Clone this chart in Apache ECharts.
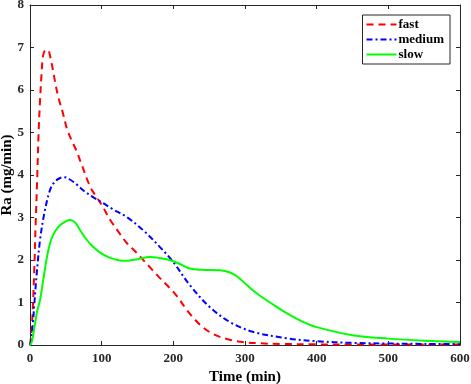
<!DOCTYPE html>
<html>
<head>
<meta charset="utf-8">
<script src="https://cdn.jsdelivr.net/npm/echarts@6/dist/echarts.min.js"></script>
<style>html,body{margin:0;padding:0;background:#fff}#c{width:471px;height:384px}</style>
</head>
<body>
<div id="c"></div>
<script>
var fastT = [0,2,4,6,8,10,12,14,16,18,21,25,28,32,36,40,46,52,58,64,72,84,92,100,112,124,135,147,158,170,181,195,205,219,230,241,253,265,280,297,320,350,400,450,500,550,600];
var fastV = [0,0.3,0.9,1.8,2.9,3.9,5.0,5.76,6.35,6.78,6.93,6.94,6.8,6.47,6.1,5.8,5.45,5.06,4.82,4.6,4.25,3.72,3.5,3.3,2.94,2.65,2.4,2.2,2.0,1.78,1.58,1.34,1.15,0.82,0.6,0.42,0.28,0.19,0.12,0.07,0.04,0.025,0.015,0.01,0.01,0.01,0.01];

var mediumT = [0,2,4,6,8,10,14,20,28,35,42,48,55,65,75,88,100,115,135,158,181,200,223,251,279,311,358,400,450,500,550,600];
var mediumV = [0,0.15,0.5,0.95,1.4,1.8,2.47,3.1,3.65,3.85,3.93,3.95,3.9,3.78,3.63,3.48,3.36,3.2,3.01,2.7,2.31,1.95,1.41,0.89,0.54,0.31,0.16,0.09,0.05,0.035,0.025,0.02];

var slowT = [0,2,4,6,8,10,14,20,24,28,32,36,42,50,56,63,70,78,88,100,112,125,135,150,167,180,195,210,223,240,265,280,290,300,310,320,335,360,380,400,450,500,550,600];
var slowV = [0,0.05,0.2,0.4,0.6,0.8,1.06,1.7,2.1,2.4,2.58,2.7,2.82,2.91,2.94,2.88,2.7,2.5,2.31,2.15,2.05,1.99,1.98,2.02,2.07,2.05,2.0,1.9,1.8,1.77,1.76,1.7,1.6,1.45,1.3,1.17,1.0,0.73,0.55,0.42,0.23,0.15,0.1,0.07];

var xTicks = [0,100,200,300,400,500,600];
var yTicks = [0,1,2,3,4,5,6,7,8];

function pairs(t, v){ return t.map(function(x,i){ return [x, v[i]]; }); }

var font = 'Liberation Serif';
var axisColor = '#262626';
var chart = echarts.init(document.getElementById('c'), null, {renderer:'canvas'});
chart.setOption({
  animation:false,
  backgroundColor:'#fff',
  grid:{left:30, right:11, top:5, bottom:39, containLabel:false, outerBoundsMode:'none'},
  legend:{
    right:21, top:15, orient:'vertical',
    data:['fast','medium','slow'],
    itemWidth:30, itemHeight:8, itemGap:2,
    padding:[3,6,3,3],
    borderColor:'#262626', borderWidth:1, borderRadius:0,
    backgroundColor:'#fff',
    itemStyle:{opacity:0},
    textStyle:{fontFamily:font, fontWeight:'bold', fontSize:13, lineHeight:13, color:'#000', padding:[0,0,0,-3]}
  },
  xAxis:[{
    type:'value', min:0, max:600, interval:100, position:'bottom',
    name:'Time (min)', nameLocation:'middle', nameGap:25, nameMoveOverlap:false,
    nameTextStyle:{fontFamily:font, fontWeight:'bold', fontSize:15, color:'#000'},
    axisLine:{show:true, onZero:false, lineStyle:{color:axisColor, width:1}},
    axisTick:{show:true, inside:true, length:4, lineStyle:{color:axisColor}},
    axisLabel:{fontFamily:font, fontWeight:'bold', fontSize:13, color:'#262626', margin:7,
      formatter:function(v){ return xTicks.indexOf(v)>=0 ? String(v) : ''; }},
    splitLine:{show:false}
  },{
    type:'value', min:0, max:600, interval:100, position:'top',
    axisLine:{show:true, onZero:false, lineStyle:{color:axisColor, width:1}},
    axisTick:{show:true, inside:true, length:4, lineStyle:{color:axisColor}},
    axisLabel:{show:false}, splitLine:{show:false}
  }],
  yAxis:[{
    type:'value', min:0, max:8, interval:1, position:'left',
    name:'Ra (mg/min)', nameLocation:'middle', nameGap:15, nameRotate:90, nameMoveOverlap:false,
    nameTextStyle:{fontFamily:font, fontWeight:'bold', fontSize:15, color:'#000'},
    axisLine:{show:true, onZero:false, lineStyle:{color:axisColor, width:1}},
    axisTick:{show:true, inside:true, length:4, lineStyle:{color:axisColor}},
    axisLabel:{fontFamily:font, fontWeight:'bold', fontSize:13, color:'#262626', margin:6,
      formatter:function(v){ return yTicks.indexOf(v)>=0 ? String(v) : ''; }},
    splitLine:{show:false}
  },{
    type:'value', min:0, max:8, interval:1, position:'right',
    axisLine:{show:true, onZero:false, lineStyle:{color:axisColor, width:1}},
    axisTick:{show:true, inside:true, length:4, lineStyle:{color:axisColor}},
    axisLabel:{show:false}, splitLine:{show:false}
  }],
  series:[
    {name:'fast', type:'line', data:pairs(fastT, fastV), smooth:0.35, showSymbol:false, symbol:'none',
      lineStyle:{color:'#ff0000', width:2, type:[7,5]}, itemStyle:{color:'#ff0000'}},
    {name:'medium', type:'line', data:pairs(mediumT, mediumV), smooth:0.35, showSymbol:false, symbol:'none',
      lineStyle:{color:'#0000ff', width:2, type:[6,3,2,3]}, itemStyle:{color:'#0000ff'}},
    {name:'slow', type:'line', data:pairs(slowT, slowV), smooth:0.35, showSymbol:false, symbol:'none',
      lineStyle:{color:'#00ff00', width:2, type:'solid'}, itemStyle:{color:'#00ff00'}}
  ]
});
</script>
</body>
</html>
